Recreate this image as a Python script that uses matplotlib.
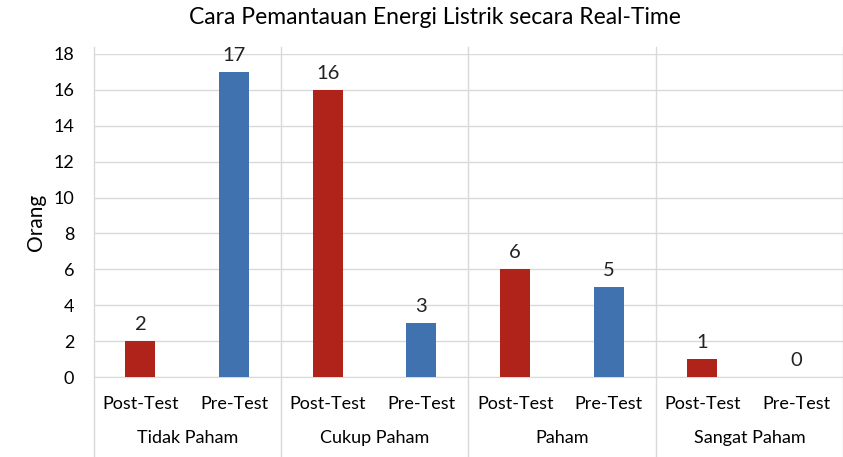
import matplotlib.pyplot as plt
import matplotlib.transforms as mtransforms

plt.rcParams['font.family'] = ['Lato', 'DejaVu Sans']

groups = ["Tidak Paham", "Cukup Paham", "Paham", "Sangat Paham"]
tests = ["Post-Test", "Pre-Test"]
post_test = [2, 16, 6, 1]
pre_test = [17, 3, 5, 0]

RED = "#B0231A"
BLUE = "#3F72AF"
LINE = "#d9d9d9"

fig = plt.figure(figsize=(8.43, 4.57), dpi=100)
ax = fig.add_axes([0.111, 0.175, 0.889, 0.707])

# one slot per (group, test) pair
labels = []
values = []
colors = []
for g in range(len(groups)):
    labels += tests
    values += [post_test[g], pre_test[g]]
    colors += [RED, BLUE]
xs = list(range(len(values)))

ax.bar(xs, values, width=0.32, color=colors, zorder=3)
for x, v in zip(xs, values):
    ax.text(x, v + 0.45, str(v), ha="center", va="bottom", fontsize=14.5, color="#222222")

ax.set_xlim(-0.5, len(values) - 0.5)
ax.set_ylim(0, 18)
ax.set_yticks(range(0, 19, 2))
ax.set_xticks(xs)
ax.set_xticklabels(labels, fontsize=13)
ax.tick_params(axis="x", length=0, pad=14)
ax.tick_params(axis="y", length=0, labelsize=13, pad=14)
ax.yaxis.grid(True, color=LINE, linewidth=1)
ax.set_axisbelow(True)
for s in ["top", "right", "left"]:
    ax.spines[s].set_visible(False)
ax.spines["bottom"].set_color(LINE)

fig.text(0.043, 0.514, "Orang", rotation=90, ha="center", va="center", fontsize=15)
fig.text(0.516, 0.962, "Cara Pemantauan Energi Listrik secara Real-Time",
         ha="center", va="center", fontsize=16.5)

# group separators and group names under the axis
trans = mtransforms.blended_transform_factory(ax.transData, ax.transAxes)
for g in range(len(groups) + 1):
    xb = 2 * g - 0.5
    ax.plot([xb, xb], [-0.33, 1.02], color=LINE, linewidth=1, transform=trans, clip_on=False)
for g, name in enumerate(groups):
    ax.text(2 * g + 0.5, -0.19, name, ha="center", va="center", fontsize=13, transform=trans)

fig.savefig("out.png", dpi=100)
